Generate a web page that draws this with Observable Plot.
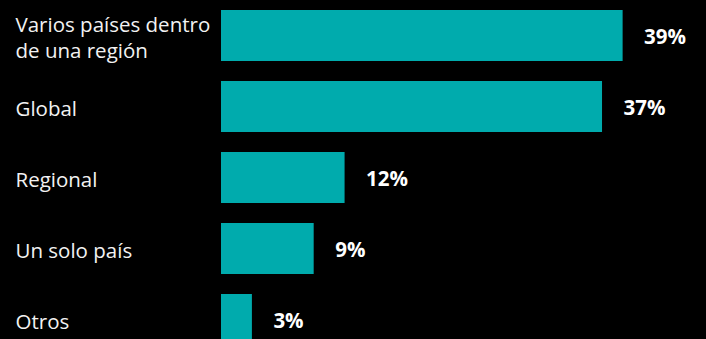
<!DOCTYPE html>
<html>
<head>
<meta charset="utf-8">
<script src="https://cdn.jsdelivr.net/npm/d3@7"></script>
<script src="https://cdn.jsdelivr.net/npm/@observablehq/plot@0.6"></script>
<style>
  html, body { margin: 0; padding: 0; background: #000; }
  #chart { width: 706px; height: 339px; overflow: hidden; }
</style>
</head>
<body>
<div id="chart"></div>
<script>
const categories = ["Varios países dentro\nde una región", "Global", "Regional", "Un solo país", "Otros"];
const values = [39, 37, 12, 9, 3];
const valueLabels = ["39%", "37%", "12%", "9%", "3%"];

const data = categories.map((c, i) => ({cat: c, value: values[i], label: valueLabels[i]}));

const chart = Plot.plot({
  width: 706,
  height: 339,
  marginLeft: 221,
  marginRight: 0,
  marginTop: 0,
  marginBottom: 0,
  style: {background: "#000", fontFamily: "'Open Sans', sans-serif", overflow: "hidden"},
  x: {domain: [0, 47], range: [221, 705], axis: null},
  y: {domain: categories, range: [10, 345], paddingInner: 0.282, paddingOuter: 0, axis: null},
  marks: [
    Plot.barX(data, {y: "cat", x: "value", fill: "#00abad"}),
    Plot.text(data, {y: "cat", x: "value", text: "label", textAnchor: "start", dx: 21, dy: 1, fill: "#ffffff", fontSize: 20.5, fontWeight: "bold"}),
    Plot.text(data, {y: "cat", text: "cat", frameAnchor: "left", textAnchor: "start", dx: -206, dy: 1, fill: "#f2f2f2", fontSize: 20.5, lineHeight: 1.27})
  ]
});
document.getElementById("chart").appendChild(chart);
</script>
</body>
</html>
